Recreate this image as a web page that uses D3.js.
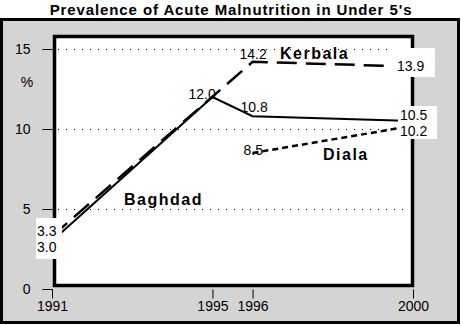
<!DOCTYPE html>
<html>
<head>
<meta charset="utf-8">
<script src="https://cdn.jsdelivr.net/npm/d3@7"></script>
<style>
  body { margin: 0; background: #fff; }
  svg text { font-family: "Liberation Sans", Arial, sans-serif; fill: #000; }
</style>
</head>
<body>
<div id="chart"></div>
<script>
// data
const years = [1991, 1995, 1996, 2000];
const baghdad = [3.0, 12.0, 10.8, 10.5];
const kerbala = [3.3, null, 14.2, 13.9];
const diala = [null, null, 8.5, 10.2];
const yTicks = [0, 5, 10, 15];
const gridValues = [5, 10, 15];

const W = 461, H = 326;

const svg = d3.select("#chart").append("svg")
    .attr("width", W)
    .attr("height", H);

// outer grey panel
svg.append("rect")
    .attr("x", 1.5).attr("y", 19.5)
    .attr("width", 457).attr("height", 303)
    .attr("fill", "#d4d4d4")
    .attr("stroke", "#000")
    .attr("stroke-width", 3);

// title
svg.append("text")
    .attr("x", 231).attr("y", 15)
    .attr("text-anchor", "middle")
    .attr("font-size", 15)
    .attr("font-weight", "bold")
    .attr("letter-spacing", 0.9)
    .text("Prevalence of Acute Malnutrition in Under 5's");

const x = d3.scaleLinear().domain([1991, 2000]).range([52, 413]);
const y = d3.scaleLinear().domain([0, 15]).range([289, 49]);

// white plot area with heavy frame
svg.append("rect")
    .attr("x", 54.5).attr("y", 36.5)
    .attr("width", 358).attr("height", 249)
    .attr("fill", "#fff")
    .attr("stroke", "#000")
    .attr("stroke-width", 3.5);

// dotted gridlines
svg.selectAll(".grid")
    .data(gridValues)
    .enter().append("line")
    .attr("class", "grid")
    .attr("x1", 58).attr("x2", 410)
    .attr("y1", d => Math.round(y(d)) + 0.5)
    .attr("y2", d => Math.round(y(d)) + 0.5)
    .attr("stroke", "#000")
    .attr("stroke-width", 1)
    .attr("stroke-dasharray", "1,7");

// axes (no domain line, ticks stick out from the frame)
const yAxis = svg.append("g")
    .attr("transform", "translate(52.5,0)")
    .call(d3.axisLeft(y).tickValues(yTicks).tickSize(10).tickPadding(12));
yAxis.select(".domain").remove();

const xAxis = svg.append("g")
    .attr("transform", "translate(0,289.5)")
    .call(d3.axisBottom(x).tickValues(years).tickFormat(d3.format("d")).tickSize(9).tickPadding(3));
xAxis.select(".domain").remove();

svg.selectAll(".tick line").attr("stroke", "#000").attr("stroke-width", 1);
svg.selectAll(".tick text")
    .attr("font-size", 14)
    .attr("font-family", "'Liberation Sans', Arial, sans-serif")
    .attr("fill", "#000");

svg.append("text")
    .attr("x", 27).attr("y", 87)
    .attr("text-anchor", "middle")
    .attr("font-size", 14)
    .text("%");

// series lines
function pts(vals) {
    return years.map((yr, i) => [yr, vals[i]]).filter(d => d[1] != null);
}
const line = d3.line().x(d => x(d[0])).y(d => y(d[1]));

svg.append("path")
    .attr("d", line(pts(kerbala)))
    .attr("fill", "none")
    .attr("stroke", "#000")
    .attr("stroke-width", 2.5)
    .attr("stroke-dasharray", "20,9");

svg.append("path")
    .attr("d", line(pts(baghdad)))
    .attr("fill", "none")
    .attr("stroke", "#000")
    .attr("stroke-width", 2);

svg.append("path")
    .attr("d", line(pts(diala)))
    .attr("fill", "none")
    .attr("stroke", "#000")
    .attr("stroke-width", 2.5)
    .attr("stroke-dasharray", "6,4");

// white boxes behind end labels
const boxes = [
    { x: 36, y: 218, w: 26, h: 41 },
    { x: 392, y: 48, w: 43, h: 29 },
    { x: 398, y: 106, w: 39, h: 33 }
];
svg.selectAll(".box")
    .data(boxes)
    .enter().append("rect")
    .attr("class", "box")
    .attr("x", d => d.x).attr("y", d => d.y)
    .attr("width", d => d.w).attr("height", d => d.h)
    .attr("fill", "#fff");

// value labels, anchored at their data point
const valueLabels = [
    { v: kerbala[0], yr: 1991, dx: -15, dy: 0 },
    { v: baghdad[0], yr: 1991, dx: -15, dy: 11 },
    { v: baghdad[1], yr: 1995, dx: -24, dy: 2 },
    { v: baghdad[2], yr: 1996, dx: -12, dy: -4 },
    { v: kerbala[2], yr: 1996, dx: -13, dy: -3 },
    { v: diala[2], yr: 1996, dx: -9, dy: 2 },
    { v: kerbala[3], yr: 2000, dx: -16, dy: 4 },
    { v: baghdad[3], yr: 2000, dx: -13, dy: -1 },
    { v: diala[3], yr: 2000, dx: -13, dy: 10 }
];
svg.selectAll(".vlabel")
    .data(valueLabels)
    .enter().append("text")
    .attr("class", "vlabel")
    .attr("font-size", 14)
    .attr("x", d => x(d.yr) + d.dx)
    .attr("y", d => y(d.v) + d.dy)
    .text(d => d3.format(".1f")(d.v));

// series names
const names = [
    { t: "Kerbala", x: 280, y: 59 },
    { t: "Baghdad", x: 124, y: 205 },
    { t: "Diala", x: 323, y: 160 }
];
svg.selectAll(".name")
    .data(names)
    .enter().append("text")
    .attr("class", "name")
    .attr("x", d => d.x).attr("y", d => d.y)
    .attr("font-size", 16)
    .attr("font-weight", "bold")
    .attr("letter-spacing", 1.5)
    .text(d => d.t);
</script>
</body>
</html>
